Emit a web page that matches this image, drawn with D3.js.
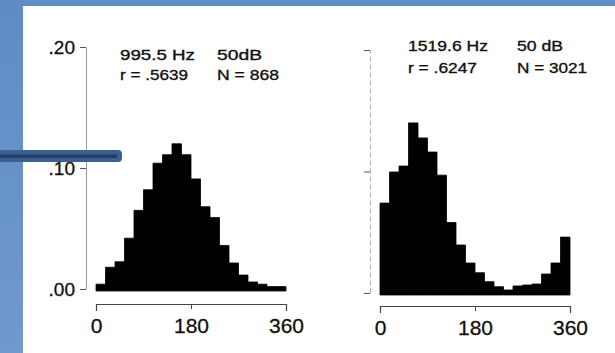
<!DOCTYPE html>
<html>
<head>
<meta charset="utf-8">
<script src="https://cdn.jsdelivr.net/npm/d3@7/dist/d3.min.js"></script>
<style>
  html, body { margin: 0; padding: 0; background: #fff; }
  svg { display: block; }
  text { font-family: "Liberation Sans", Arial, sans-serif; fill: #111; }
</style>
</head>
<body>
<svg id="chart" width="615" height="353"></svg>
<script>
// ---- data ----
const binStarts = [0, 18, 36, 54, 72, 90, 108, 126, 144, 162, 180, 198, 216, 234, 252, 270, 288, 306, 324, 342];
const binWidth = 18;
const leftValues = [0.004, 0.018, 0.0225, 0.042, 0.065, 0.082, 0.104, 0.111, 0.120, 0.111,
                    0.091, 0.068, 0.059, 0.036, 0.0215, 0.0115, 0.0058, 0.004, 0.002, 0.002];
const rightValues = [0.074, 0.0996, 0.1045, 0.140, 0.1276, 0.116, 0.097, 0.058, 0.0395, 0.0247,
                     0.0167, 0.0093, 0.0052, 0.0025, 0.0058, 0.0066, 0.0074, 0.0156, 0.0247, 0.046];
const xTickValues = [0, 180, 360];
const yTickValues = [0, 0.1, 0.2];
const yTickLabels = [".00", ".10", ".20"];
const leftHeader = ["995.5 Hz", "50dB", "r = .5639", "N = 868"];
const rightHeader = ["1519.6 Hz", "50 dB", "r = .6247", "N = 3021"];

const svg = d3.select("#chart");

// ---- slide-like frame ----
const defs = svg.append("defs");
const g1 = defs.append("linearGradient").attr("id", "sideGrad").attr("x1", 0).attr("y1", 0).attr("x2", 0).attr("y2", 1);
g1.append("stop").attr("offset", "0%").attr("stop-color", "#5f8cc5");
g1.append("stop").attr("offset", "100%").attr("stop-color", "#7099cc");
svg.append("rect").attr("x", 0).attr("y", 0).attr("width", 615).attr("height", 6).attr("fill", "#5f8cc5");
svg.append("rect").attr("x", 0).attr("y", 0).attr("width", 23).attr("height", 353).attr("fill", "url(#sideGrad)");

function panel(cfg) {
  const x = d3.scaleLinear().domain([0, 360]).range(cfg.xRange);
  const y = d3.scaleLinear().domain([0, 0.2]).range(cfg.yRange);
  const g = svg.append("g");

  // histogram drawn as one stepped outline (no seams between bins)
  const pts = cfg.values.map((v, i) => ({ a: binStarts[i], v: v }));
  pts.push({ a: binStarts[binStarts.length - 1] + binWidth, v: cfg.values[cfg.values.length - 1] });
  const area = d3.area()
    .x(d => x(d.a))
    .y0(y(0) + 2)
    .y1(d => y(d.v))
    .curve(d3.curveStepAfter);
  g.append("path").datum(pts).attr("d", area).attr("fill", "#000")
    .attr("stroke", "#000").attr("stroke-width", 0.8).attr("stroke-linejoin", "round");

  // y axis
  const yAxis = d3.axisLeft(y).tickValues(yTickValues).tickSizeInner(6).tickSizeOuter(0).tickPadding(5)
    .tickFormat((d, i) => cfg.yLabels ? yTickLabels[i] : "");
  const ya = g.append("g").attr("transform", `translate(${cfg.yAxisX},0)`).call(yAxis);
  ya.select(".domain").attr("stroke", cfg.axisColor).attr("stroke-width", 1).attr("stroke-dasharray", cfg.dash);
  ya.selectAll(".tick line").attr("stroke", "#555");
  ya.selectAll(".tick text").style("font-size", "19px").style("font-family", "Liberation Sans, Arial, sans-serif")
    .attr("fill", "#111").attr("stroke", "#111").attr("stroke-width", 0.3);

  // x axis
  const xAxis = d3.axisBottom(x).tickValues(xTickValues).tickSizeInner(5).tickSizeOuter(7).tickPadding(9);
  const xa = g.append("g").attr("transform", `translate(0,${cfg.xAxisY})`).call(xAxis);
  xa.select(".domain").attr("stroke", "#444").attr("stroke-width", 1.2);
  xa.selectAll(".tick line").attr("stroke", "#444");
  xa.selectAll(".tick text").style("font-size", "21px").style("font-family", "Liberation Sans, Arial, sans-serif")
    .attr("fill", "#111").attr("stroke", "#111").attr("stroke-width", 0.3);

  // header text
  const h = cfg.header;
  const pos = cfg.headerPos;
  h.forEach((t, i) => {
    g.append("text").attr("x", pos[i][0]).attr("y", pos[i][1])
      .attr("textLength", pos[i][2]).attr("lengthAdjust", "spacingAndGlyphs")
      .attr("stroke", "#111").attr("stroke-width", 0.35)
      .style("font-size", "15px").text(t);
  });
}

panel({
  values: leftValues,
  xRange: [96, 286],
  yRange: [289, 47],
  yAxisX: 86,
  xAxisY: 304,
  yLabels: true,
  axisColor: "#9a9a9a",
  dash: null,
  header: leftHeader,
  headerPos: [[120, 60, 75], [217, 60, 45], [120, 80, 68], [217, 80, 62]]
});

panel({
  values: rightValues,
  xRange: [380, 570],
  yRange: [293, 50],
  yAxisX: 370,
  xAxisY: 306,
  yLabels: false,
  axisColor: "#a8a8a8",
  dash: "5,3",
  header: rightHeader,
  headerPos: [[408, 51, 80], [517, 51, 46], [408, 73, 69], [517, 73, 70]]
});

// ---- dark blue bar from the slide ----
svg.append("rect").attr("x", -10).attr("y", 150).attr("width", 132).attr("height", 12)
  .attr("rx", 4).attr("fill", "#3b6091");
svg.append("rect").attr("x", -10).attr("y", 154.5).attr("width", 127).attr("height", 3.5)
  .attr("fill", "#213f69");
</script>
</body>
</html>
